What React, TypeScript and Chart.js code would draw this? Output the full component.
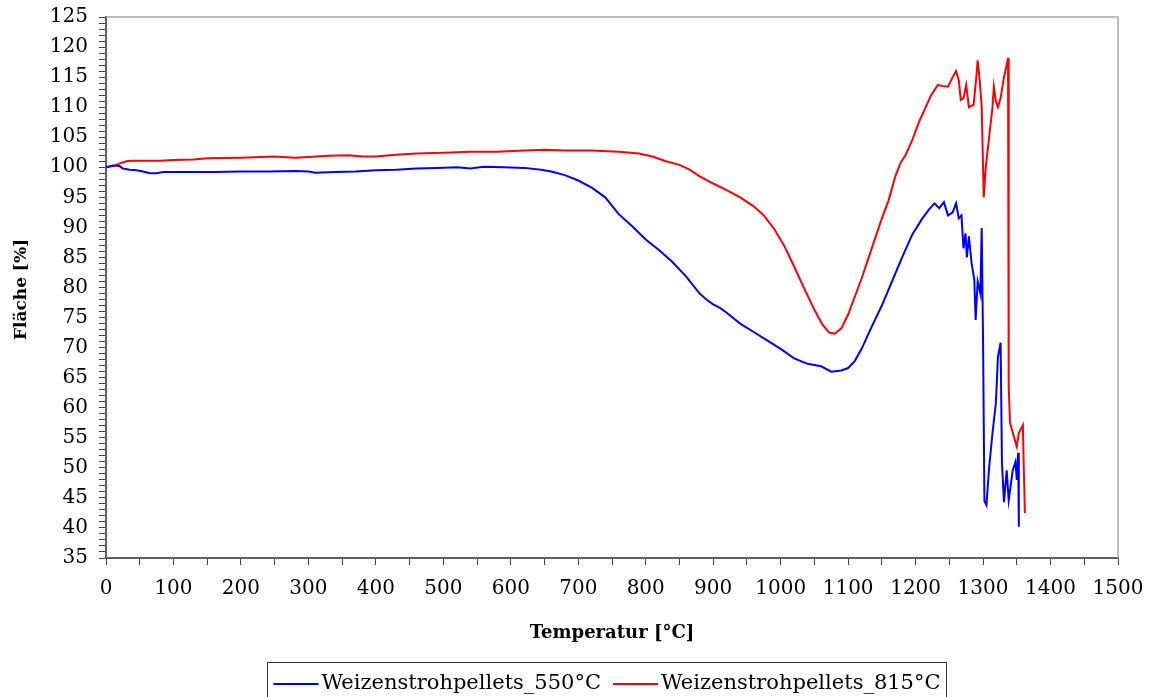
import { useEffect, useRef } from "react";
import { Chart, registerables } from "chart.js";

Chart.register(...registerables);

const temps550 = [0, 10, 20, 25, 35, 45, 55, 65, 75, 85, 100, 130, 160, 200, 240, 280, 300, 310, 340, 370, 400, 430, 460, 490, 520, 540, 560, 590, 620, 645, 660, 680, 700, 720, 740, 760, 780, 800, 820, 840, 860, 880, 890, 900, 910, 920, 940, 960, 980, 1000, 1020, 1040, 1060, 1075, 1090, 1100, 1110, 1120, 1135, 1150, 1165, 1180, 1195, 1210, 1220, 1228, 1235, 1242, 1248, 1255, 1260, 1264, 1268, 1271, 1274, 1276, 1279, 1283, 1287, 1289, 1292, 1296, 1298, 1300, 1302, 1305, 1309, 1314, 1319, 1322, 1326, 1328, 1331, 1335, 1338, 1344, 1348, 1350, 1352, 1353];
const flaeche550 = [100.0, 100.3, 100.2, 99.8, 99.6, 99.5, 99.3, 99.0, 99.0, 99.2, 99.2, 99.2, 99.2, 99.3, 99.3, 99.4, 99.3, 99.1, 99.2, 99.3, 99.5, 99.6, 99.8, 99.9, 100.0, 99.8, 100.1, 100.0, 99.9, 99.6, 99.3, 98.7, 97.8, 96.6, 95.0, 92.2, 90.2, 88.0, 86.2, 84.2, 81.8, 79.0, 78.0, 77.2, 76.6, 75.8, 74.0, 72.6, 71.2, 69.8, 68.2, 67.3, 66.9, 66.0, 66.2, 66.6, 67.8, 69.8, 73.5, 77.0, 81.0, 85.0, 88.8, 91.5, 93.0, 94.0, 93.2, 94.2, 92.0, 92.5, 94.0, 91.5, 92.0, 86.5, 89.0, 85.0, 88.5, 84.0, 81.3, 74.6, 81.0, 79.0, 89.9, 70.8, 44.5, 43.8, 50.1, 55.8, 60.8, 68.4, 70.8, 50.8, 44.3, 49.6, 44.6, 49.6, 51.0, 48.0, 52.5, 40.2];

const temps815 = [0, 10, 20, 30, 40, 80, 100, 130, 150, 200, 250, 280, 300, 330, 360, 380, 400, 430, 460, 500, 540, 580, 620, 650, 680, 720, 760, 790, 810, 830, 850, 865, 880, 900, 920, 940, 960, 975, 990, 1005, 1020, 1035, 1050, 1062, 1072, 1080, 1090, 1100, 1110, 1120, 1135, 1150, 1160, 1170, 1178, 1185, 1195, 1205, 1215, 1223, 1233, 1240, 1248, 1255, 1260, 1264, 1267, 1271, 1275, 1279, 1286, 1290, 1292, 1295, 1298, 1301, 1304, 1309, 1314, 1316, 1319, 1322, 1326, 1331, 1335, 1337, 1338, 1340, 1346, 1350, 1353, 1359, 1360, 1362];
const flaeche815 = [100.0, 100.2, 100.6, 101.0, 101.1, 101.1, 101.2, 101.3, 101.5, 101.6, 101.8, 101.6, 101.7, 101.9, 102.0, 101.8, 101.8, 102.1, 102.3, 102.4, 102.6, 102.6, 102.8, 102.9, 102.8, 102.8, 102.6, 102.3, 101.8, 101.0, 100.4, 99.6, 98.5, 97.3, 96.2, 95.0, 93.5, 92.0, 89.8, 87.0, 83.5, 79.8, 76.3, 73.8, 72.5, 72.3, 73.2, 75.5, 78.5, 81.5, 86.5, 91.5, 94.5, 98.5, 100.8, 102.0, 104.5, 107.5, 110.0, 112.0, 113.7, 113.5, 113.4, 115.0, 116.0, 114.5, 111.2, 111.5, 113.7, 110.0, 110.4, 115.0, 117.8, 114.5, 110.0, 95.0, 100.0, 105.0, 110.0, 113.4, 111.0, 110.0, 111.5, 115.0, 117.0, 118.2, 63.5, 57.5, 55.1, 53.5, 55.8, 57.1, 51.8, 42.5];

const seriesNames = ["Weizenstrohpellets_550°C", "Weizenstrohpellets_815°C"];
const seriesColors = ["#0000ff", "#ff0000"];
const xTitle = "Temperatur [°C]";
const yTitle = "Fläche [%]";

const FONT = '"DejaVu Serif", serif';

const toPoints = (xs: number[], ys: number[]) => xs.map((x, i) => ({ x, y: ys[i] }));

const decorPlugin = {
  id: "decor",
  beforeDatasetsDraw(chart: any) {
    const { ctx, chartArea: a } = chart;
    ctx.save();
    ctx.strokeStyle = "#a8a8a8";
    ctx.lineWidth = 1.5;
    ctx.beginPath();
    ctx.moveTo(a.left, a.top);
    ctx.lineTo(a.right, a.top);
    ctx.lineTo(a.right, a.bottom);
    ctx.stroke();
    ctx.restore();
  },
  afterDraw(chart: any) {
    const { ctx, chartArea: a } = chart;
    ctx.save();
    ctx.fillStyle = "#000";
    ctx.font = `bold 18px ${FONT}`;
    ctx.textAlign = "center";
    ctx.textBaseline = "middle";
    ctx.fillText(xTitle, (a.left + a.right) / 2, a.bottom + 75);
    ctx.save();
    ctx.font = `bold 17px ${FONT}`;
    ctx.translate(22, (a.top + a.bottom) / 2 + 2);
    ctx.rotate(-Math.PI / 2);
    ctx.fillText(yTitle, 0, 0);
    ctx.restore();

    // legend
    ctx.font = `21px ${FONT}`;
    const lineLen = 45;
    const gap = 3;
    const itemGap = 12;
    const pad = 6;
    const ds = chart.data.datasets;
    const widths = ds.map((d: any) => lineLen + gap + ctx.measureText(d.label).width);
    const total = widths.reduce((s: number, w: number) => s + w, 0) + itemGap * (ds.length - 1) + pad * 2;
    const cx = 607;
    const boxLeft = cx - total / 2;
    const boxTop = 662;
    ctx.strokeStyle = "#333";
    ctx.lineWidth = 1;
    ctx.strokeRect(Math.round(boxLeft) + 0.5, boxTop + 0.5, Math.round(total), 60);
    let x = boxLeft + pad;
    const cy = 684;
    ds.forEach((d: any, i: number) => {
      ctx.strokeStyle = d.borderColor;
      ctx.lineWidth = 2;
      ctx.beginPath();
      ctx.moveTo(x, cy);
      ctx.lineTo(x + lineLen, cy);
      ctx.stroke();
      ctx.fillStyle = "#000";
      ctx.textAlign = "left";
      ctx.textBaseline = "middle";
      ctx.fillText(d.label, x + lineLen + gap, cy);
      x += widths[i] + itemGap;
    });
    ctx.restore();
  },
};

export default function App() {
  const ref = useRef<HTMLCanvasElement | null>(null);
  useEffect(() => {
    document.body.style.margin = "0";
    if (!ref.current) return;
    const chart = new Chart(ref.current, {
      type: "line",
      data: {
        datasets: [
          {
            label: seriesNames[0],
            data: toPoints(temps550, flaeche550),
            borderColor: seriesColors[0],
            borderWidth: 2,
            pointRadius: 0,
            tension: 0,
            fill: false,
          },
          {
            label: seriesNames[1],
            data: toPoints(temps815, flaeche815),
            borderColor: seriesColors[1],
            borderWidth: 2,
            pointRadius: 0,
            tension: 0,
            fill: false,
          },
        ],
      },
      options: {
        animation: false,
        responsive: true,
        maintainAspectRatio: false,
        parsing: false as any,
        layout: { padding: { left: 0, top: 17, right: 34, bottom: 0 } },
        plugins: { legend: { display: false }, tooltip: { enabled: false } },
        scales: {
          x: {
            type: "linear",
            min: 0,
            max: 1500,
            afterFit: (s: any) => {
              s.height = 139;
              s.paddingLeft = 0;
              s.paddingRight = 0;
            },
            grid: { drawOnChartArea: false, drawTicks: true, tickLength: 7, color: "#404040", lineWidth: 1 },
            border: { display: true, color: "#606060", width: 2 },
            ticks: {
              stepSize: 50,
              autoSkip: false,
              maxRotation: 0,
              padding: 12,
              color: "#000",
              font: { family: FONT, size: 20 },
              callback: (v: any) => (Number(v) % 100 === 0 ? String(v) : ""),
            },
          },
          y: {
            type: "linear",
            min: 35,
            max: 125,
            afterFit: (s: any) => {
              s.width = 106;
              s.paddingTop = 0;
              s.paddingBottom = 0;
            },
            grid: { drawOnChartArea: false, drawTicks: true, tickLength: 7, color: "#404040", lineWidth: 1 },
            border: { display: true, color: "#606060", width: 2 },
            ticks: {
              stepSize: 1,
              autoSkip: false,
              padding: 11,
              color: "#000",
              font: { family: FONT, size: 20 },
              callback: (v: any) => (Number(v) % 5 === 0 ? String(v) : ""),
            },
          },
        },
      },
      plugins: [decorPlugin],
    });
    return () => chart.destroy();
  }, []);
  return (
    <div style={{ width: 1152, height: 697, position: "relative" }}>
      <canvas ref={ref} />
    </div>
  );
}
